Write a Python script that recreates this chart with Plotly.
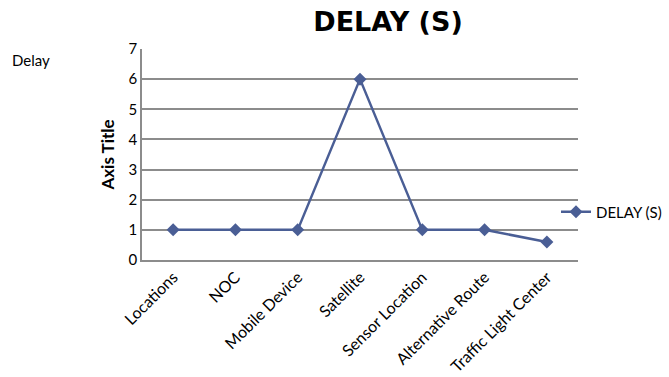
import plotly.graph_objects as go

categories = ["Locations", "NOC", "Mobile Device", "Satellite", "Sensor Location",
              "Alternative Route", "Traffic Light Center"]
delay_values = [1, 1, 1, 6, 1, 1, 0.6]
series_name = "DELAY (S)"
y_ticks = [0, 1, 2, 3, 4, 5, 6, 7]

color = "#4a5e95"
font_family = "Lato, 'Open Sans', sans-serif"

fig = go.Figure()
fig.add_trace(go.Scatter(
    x=categories, y=delay_values, mode="lines+markers", name=series_name,
    line=dict(color=color, width=2.5),
    marker=dict(symbol="diamond", size=10, color=color),
))

W, H = 669, 377
L, R, T, B = 142, 91, 49, 117
pw, ph = W - L - R, H - T - B

fig.update_layout(
    width=W, height=H,
    margin=dict(l=L, r=R, t=T, b=B, autoexpand=False),
    paper_bgcolor="white", plot_bgcolor="white",
    font=dict(family=font_family, size=12, color="#000000"),
    title=dict(text="<b>DELAY (S)</b>", x=388 / W, xanchor="center", y=1 - 22 / H, yanchor="middle",
               font=dict(size=27, family="'DejaVu Sans', sans-serif", color="#000000")),
    showlegend=True,
    legend=dict(x=(556 - L) / pw, y=(H - B - 212) / ph, xanchor="left", yanchor="middle",
                font=dict(size=15, family=font_family), bgcolor="rgba(0,0,0,0)",
                itemwidth=30),
    xaxis=dict(type="category", tickangle=-45, showgrid=False, showline=True,
               linecolor="#8c8c8c", linewidth=1.5, ticks="", tickfont=dict(size=16),
               range=[-0.5, 6.5], automargin=False),
    yaxis=dict(range=[0, 7], tickvals=y_ticks, showgrid=True, gridcolor="#8c8c8c",
               gridwidth=1.5, showline=True, linecolor="#8c8c8c", linewidth=1.5,
               zeroline=False, ticks="", tickfont=dict(size=15), automargin=False,
               title=dict(text="<b>Axis Title</b>", font=dict(size=17), standoff=10)),
    annotations=[dict(text="Delay", x=(10 - L) / pw, xanchor="left",
                      y=(H - B - 60) / ph, yanchor="middle",
                      xref="paper", yref="paper", showarrow=False, font=dict(size=15))],
)

fig.write_html("out.html")
